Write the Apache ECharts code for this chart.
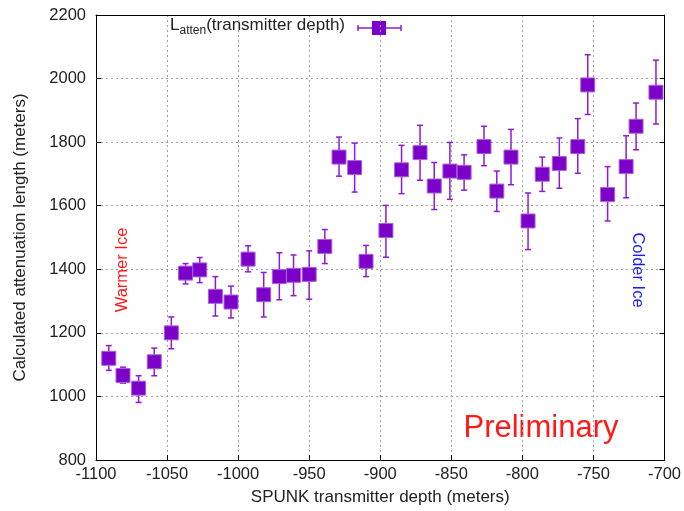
<!DOCTYPE html>
<html>
<head>
<meta charset="utf-8">
<title>Attenuation length vs transmitter depth</title>
<script src="https://cdn.jsdelivr.net/npm/echarts@6/dist/echarts.min.js"></script>
<style>
  body { margin: 0; background: #fff; }
  #main { width: 684px; height: 511px; }
</style>
</head>
<body>
<div id="main"></div>
<script>
// transmitter depth (m)
var depth = [-1091, -1081, -1070, -1059, -1047, -1037, -1027, -1016, -1005, -993,
             -982, -971, -961, -950, -939, -929, -918, -910, -896, -885,
             -872, -862, -851, -841, -827, -818, -808, -796, -786, -774,
             -761, -754, -740, -727, -720, -706];
// attenuation length (m)
var latten = [1120, 1066, 1026, 1109, 1200, 1388, 1398, 1315, 1297, 1432,
              1320, 1377, 1381, 1384, 1472, 1753, 1720, 1425, 1522, 1713,
              1767, 1662, 1709, 1705, 1786, 1646, 1753, 1552, 1699, 1733,
              1786, 1980, 1635, 1723, 1850, 1957];
// error bar top / bottom
var errHi = [1160, 1092, 1065, 1152, 1250, 1418, 1437, 1377, 1347, 1474,
             1390, 1452, 1445, 1458, 1525, 1816, 1797, 1475, 1601, 1790,
             1853, 1736, 1799, 1760, 1850, 1709, 1840, 1640, 1753, 1813,
             1874, 2075, 1723, 1820, 1923, 2058];
var errLo = [1082, 1042, 981, 1065, 1150, 1354, 1358, 1253, 1247, 1392,
             1250, 1304, 1317, 1306, 1418, 1693, 1643, 1377, 1438, 1638,
             1680, 1588, 1620, 1649, 1726, 1582, 1666, 1462, 1645, 1655,
             1702, 1887, 1552, 1625, 1776, 1857];

var purple = '#7d00c9';
var barColor = '#8f1ad6';
var font = '"Liberation Sans", Arial, sans-serif';

var errData = [];
var ptData = [];
for (var i = 0; i < depth.length; i++) {
    errData.push([depth[i], errLo[i], errHi[i]]);
    ptData.push([depth[i], latten[i]]);
}

var myChart = echarts.init(document.getElementById('main'));

var gridLine = { show: true, lineStyle: { color: '#a0a0a0', type: [2, 3], width: 1 } };
var axisLine = { show: true, lineStyle: { color: '#000', width: 1 } };
var plain = function (v) { return String(v); };

var option = {
    backgroundColor: '#fff',
    animation: false,
    grid: { left: 96, right: 16, top: 15, bottom: 48 },
    xAxis: [{
        type: 'value', min: -1100, max: -700, interval: 50,
        name: 'SPUNK transmitter depth (meters)',
        nameLocation: 'middle', nameGap: 29,
        nameTextStyle: { color: '#222', fontSize: 17, fontFamily: font },
        axisLine: axisLine,
        axisTick: { show: true, inside: true, length: 5, lineStyle: { color: '#000' } },
        axisLabel: { color: '#222', fontSize: 16.5, fontFamily: font, margin: 6, formatter: plain },
        splitLine: gridLine
    }, {
        type: 'value', min: -1100, max: -700, interval: 50, position: 'top',
        axisLine: axisLine,
        axisTick: { show: false },
        axisLabel: { show: false },
        splitLine: { show: false }
    }],
    yAxis: [{
        type: 'value', min: 800, max: 2200, interval: 200,
        name: 'Calculated attenuation length (meters)',
        nameLocation: 'middle', nameGap: 67, nameRotate: 90,
        nameTextStyle: { color: '#222', fontSize: 17, fontFamily: font },
        axisLine: axisLine,
        axisTick: { show: true, inside: true, length: 5, lineStyle: { color: '#000' } },
        axisLabel: { color: '#222', fontSize: 16.5, fontFamily: font, margin: 10, formatter: plain },
        splitLine: gridLine
    }, {
        type: 'value', min: 800, max: 2200, interval: 200, position: 'right',
        axisLine: axisLine,
        axisTick: { show: true, inside: true, length: 5, lineStyle: { color: '#000' } },
        axisLabel: { show: false },
        splitLine: { show: false }
    }],
    series: [{
        type: 'custom',
        name: 'err',
        data: errData,
        renderItem: function (params, api) {
            var x = api.value(0);
            var lo = api.coord([x, api.value(1)]);
            var hi = api.coord([x, api.value(2)]);
            var cap = 3;
            var st = { stroke: barColor, lineWidth: 1.5 };
            return {
                type: 'group',
                children: [
                    { type: 'line', shape: { x1: lo[0], y1: lo[1], x2: hi[0], y2: hi[1] }, style: st },
                    { type: 'line', shape: { x1: hi[0] - cap, y1: hi[1], x2: hi[0] + cap, y2: hi[1] }, style: st },
                    { type: 'line', shape: { x1: lo[0] - cap, y1: lo[1], x2: lo[0] + cap, y2: lo[1] }, style: st }
                ]
            };
        },
        z: 2
    }, {
        type: 'scatter',
        name: 'Latten',
        data: ptData,
        symbol: 'rect',
        symbolSize: 14,
        itemStyle: { color: purple, borderColor: '#a860dc', borderWidth: 1, opacity: 1 },
        z: 3
    }],
    graphic: [
        // legend entry
        {
            type: 'text', left: 170, top: 17,
            style: {
                text: '{a|L}{s|atten}{a|(transmitter depth)}',
                rich: {
                    a: { fontSize: 17, fontFamily: font, fill: '#222' },
                    s: { fontSize: 12, fontFamily: font, fill: '#222', padding: [10, 0, 0, 0] }
                }
            }
        },
        { type: 'line', shape: { x1: 358, y1: 28, x2: 401, y2: 28 }, style: { stroke: barColor, lineWidth: 1.5 } },
        { type: 'line', shape: { x1: 358, y1: 25, x2: 358, y2: 31 }, style: { stroke: barColor, lineWidth: 1.5 } },
        { type: 'line', shape: { x1: 401, y1: 25, x2: 401, y2: 31 }, style: { stroke: barColor, lineWidth: 1.5 } },
        { type: 'rect', shape: { x: 372, y: 21, width: 14, height: 14 }, style: { fill: purple } },
        // annotations
        {
            type: 'text', x: 122, y: 270, rotation: Math.PI / 2,
            style: { text: 'Warmer Ice', fill: '#ff1a1a', fontSize: 16.5, fontFamily: font, align: 'center', verticalAlign: 'middle' }
        },
        {
            type: 'text', x: 638, y: 270, rotation: -Math.PI / 2,
            style: { text: 'Colder Ice', fill: '#1a1aff', fontSize: 16.5, fontFamily: font, align: 'center', verticalAlign: 'middle' }
        },
        {
            type: 'text', x: 541, y: 428,
            style: { text: 'Preliminary', fill: '#ff1a1a', fontSize: 31, fontFamily: font, align: 'center', verticalAlign: 'middle' }
        }
    ]
};

myChart.setOption(option);
</script>
</body>
</html>
